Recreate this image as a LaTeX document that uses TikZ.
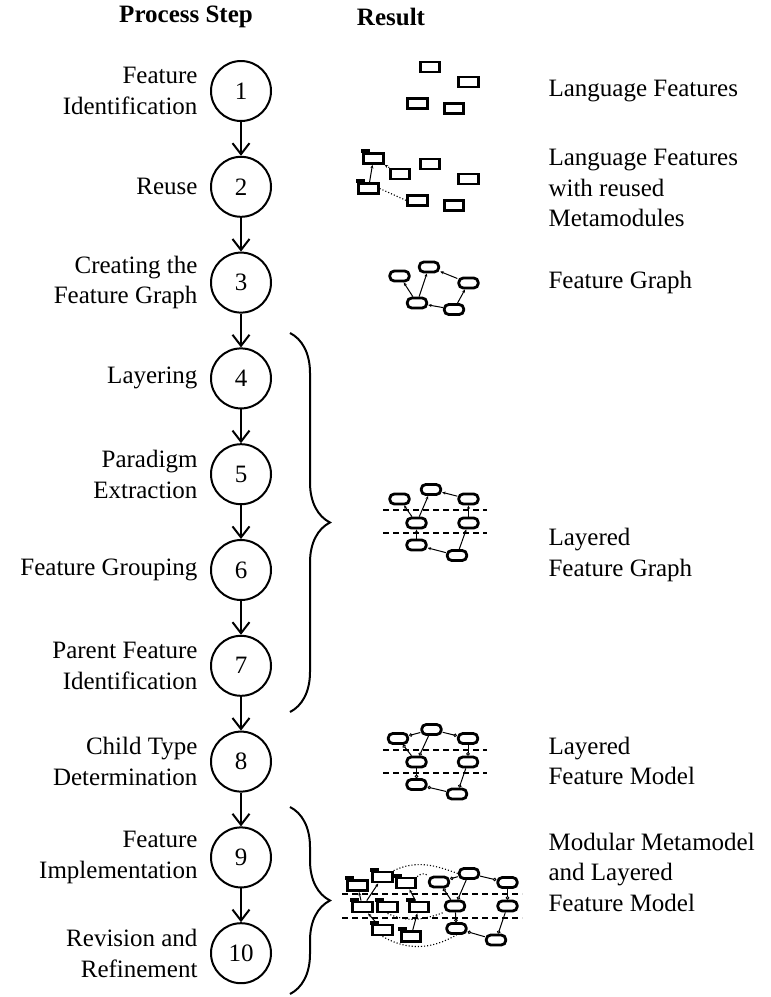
\documentclass[tikz,border=0pt]{standalone}
\usepackage{fontspec}
\setmainfont{Liberation Serif}
\usetikzlibrary{arrows.meta,positioning,decorations.pathreplacing}

\newcommand{\txtsize}{\fontsize{25}{30.5}\selectfont}
% folder = metamodule: rectangle with a small tab on top
\newcommand{\mmfolder}[2]{%
  \node[feat] (#1) at (#2) {};
  \fill ([xshift=-1.4pt,yshift=-1pt]#1.north west) rectangle ++(9pt,4pt);
}

\tikzset{
  stepnode/.style={draw, circle, line width=2pt, minimum size=60pt, inner sep=0pt},
  steplabel/.style={align=right},
  resultlabel/.style={anchor=west, align=left},
  head/.style={font=\txtsize\bfseries},
  flow/.style={line width=2pt, -{Straight Barb[length=11pt,width=17pt,line width=2pt]}},
  feat/.style={draw, line width=2.8pt, minimum width=19.5pt, minimum height=10pt, inner sep=0pt},
  rfeat/.style={feat, rounded corners=4.5pt},
  dep/.style={line width=1pt, -{Stealth[length=3.5pt,width=3pt]}},
  opt/.style={line width=1pt, -{Circle[open,length=3.5pt,line width=0.9pt]}},
  layer/.style={line width=1.2pt, dash pattern=on 6pt off 4pt},
  trace/.style={dotted, line width=1.1pt},
  grp/.style={decorate, decoration={brace, amplitude=40pt}, line width=2pt},
}

\begin{document}
\begin{tikzpicture}[x=1pt, y=-1pt, font=\txtsize]
    \useasboundingbox (0,0) rectangle (771,997);

    \node[head] (hstep) at (186,17) {Process Step};
    \node[head] (hres) at (391,17) {Result};

    % process steps
    \foreach \i in {1,...,10}
    \node[stepnode] (s\i) at (241,{91+95.8*(\i-1)}) {\i};
    \foreach \i [count=\j from 2] in {1,...,9}
    \draw[flow] (s\i) -- (s\j);

    \node[steplabel, left=9pt of s1] (l1) {Feature\\Identification};
    \node[steplabel, left=9pt of s2] (l2) {Reuse};
    \node[steplabel, left=9pt of s3] (l3) {Creating the\\Feature Graph};
    \node[steplabel, left=9pt of s4] (l4) {Layering};
    \node[steplabel, left=9pt of s5] (l5) {Paradigm\\Extraction};
    \node[steplabel, left=9pt of s6] (l6) {Feature Grouping};
    \node[steplabel, left=9pt of s7] (l7) {Parent Feature\\Identification};
    \node[steplabel, left=9pt of s8] (l8) {Child Type\\Determination};
    \node[steplabel, left=9pt of s9] (l9) {Feature\\Implementation};
    \node[steplabel, left=9pt of s10] (l10) {Revision and\\Refinement};

    \draw[grp] (290,333) -- (290,712);
    \draw[grp] (290,807) -- (290,994);

    % results
    \node[resultlabel] (t1) at (545,91) {Language Features};
    \node[resultlabel] (t2) at (545,188) {Language Features\\with reused\\Metamodules};
    \node[resultlabel] (t3) at (545,282) {Feature Graph};
    \node[resultlabel] (t4) at (545,555) {Layered\\Feature Graph};
    \node[resultlabel] (t5) at (545,761) {Layered\\Feature Model};
    \node[resultlabel] (t6) at (545,872) {Modular Metamodel\\and Layered\\Feature Model};

    % language features
    \foreach \n/\p in {1/{430,67}, 2/{468.5,82}, 3/{417.5,103.5}, 4/{454,108.5}}
    \node[feat] (lf\n) at (\p) {};

    % reuse
    \foreach \n/\p in {1/{430,164}, 2/{468.5,179}, 3/{417.5,200.5}, 4/{454,205.5}, 5/{400,174}}
    \node[feat] (rf\n) at (\p) {};
    \mmfolder{mf1}{373.5,158.5}
    \mmfolder{mf2}{368.5,188.5}
    \draw[dep] (mf2) -- (mf1);
    \draw[dep,trace] (rf5) -- (mf1.south east);
    \draw[trace] (mf2.east) -- (rf3.west);

    % feature graph
    \foreach \n/\p in {1/{399.5,276}, 2/{429,267}, 3/{468.5,283}, 4/{417,303}, 5/{454,309.5}}
    \node[rfeat] (g\n) at (\p) {};
    \foreach \a/\b in {4/1, 4/2, 3/2, 5/4, 5/3}
    \draw[dep] (g\a) -- (g\b);

    % layered feature graph
    \foreach \n/\p in {1/{399.5,499}, 2/{431,489.5}, 3/{468.5,499}, 4/{416.5,523},
                       5/{468.5,523}, 6/{416.5,545}, 7/{457,555.5}}
    \node[rfeat] (lg\n) at (\p) {};
    \foreach \a/\b in {4/1, 4/2, 3/2, 5/3, 6/4, 7/6, 7/5}
    \draw[dep] (lg\a) -- (lg\b);
    \draw[layer] (383,510) -- (487,510);
    \draw[layer] (383,533) -- (487,533);

    % layered feature model
    \foreach \n/\p in {1/{398,738.5}, 2/{431.5,729.5}, 3/{468,738.5}, 4/{416.5,762},
                       5/{468,762}, 6/{416.5,784.5}, 7/{457,794}}
    \node[rfeat] (lm\n) at (\p) {};
    \foreach \a/\b in {2/1, 2/3, 4/1, 2/4, 3/5, 4/6, 7/6, 5/7}
    \draw[opt] (lm\a) -- (lm\b);
    \draw[layer] (383,750) -- (487,750);
    \draw[layer] (383,773) -- (487,773);

    % modular metamodel and layered feature model
    \mmfolder{mm1}{357.5,885.5}
    \mmfolder{mm2}{382.5,877}
    \mmfolder{mm3}{406,883}
    \mmfolder{mm4}{362.5,907}
    \mmfolder{mm5}{387.5,907}
    \mmfolder{mm6}{419,907}
    \mmfolder{mm7}{382.5,930}
    \mmfolder{mm8}{411,936.5}
    \foreach \a/\b in {4/1, 4/2, 6/3, 7/4, 8/6}
    \draw[dep] (mm\a) -- (mm\b);
    \foreach \n/\p in {1/{439,882}, 2/{469,873.5}, 3/{507.5,882.5}, 4/{455,906},
                       5/{507.5,906}, 6/{456.5,928.5}, 7/{496,940}}
    \node[rfeat] (fm\n) at (\p) {};
    \foreach \a/\b in {2/1, 2/3, 4/1, 2/4, 3/5, 4/6, 7/6, 5/7}
    \draw[opt] (fm\a) -- (fm\b);
    \draw[trace] (mm2.north east) to[out=25,in=160] (fm2.west);
    \draw[trace] (mm3.north east) to[out=45,in=135] (fm1.north west);
    \draw[trace] (mm5.south) to[out=-25,in=-160] (fm4.south west);
    \draw[trace] (mm7.south) to[out=-30,in=-150] (fm6.south);
    \draw[layer] (342,894) -- (522,894);
    \draw[layer] (342,918) -- (522,918);
\end{tikzpicture}
\end{document}
